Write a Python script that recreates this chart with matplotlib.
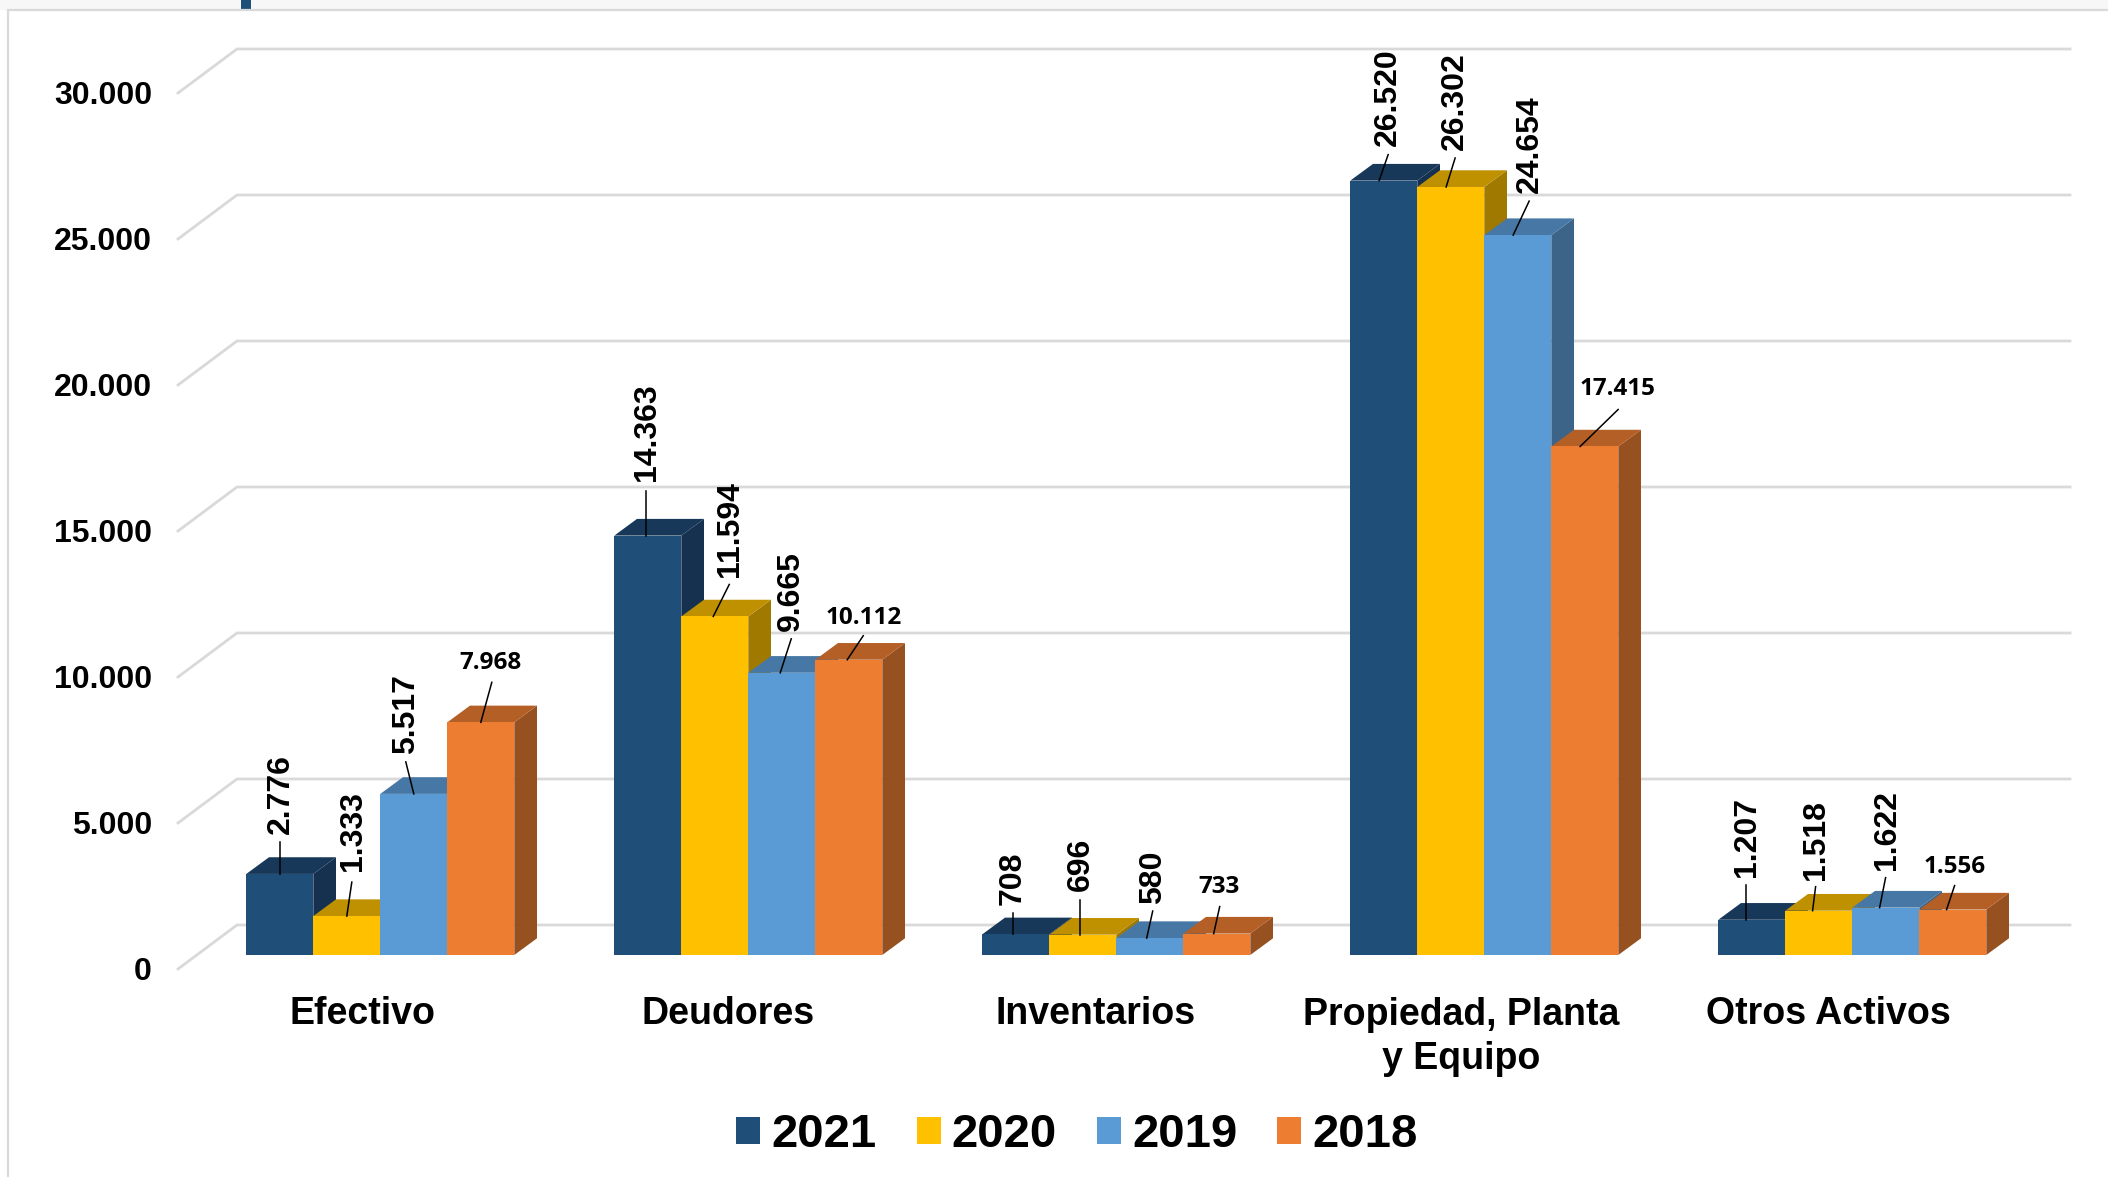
import matplotlib
matplotlib.use('Agg')
import matplotlib.pyplot as plt
from matplotlib.patches import Polygon, Rectangle

categorias = ['Efectivo', 'Deudores', 'Inventarios', 'Propiedad, Planta\ny Equipo', 'Otros Activos']
years = ['2021', '2020', '2019', '2018']
v2021 = [2776, 14363, 708, 26520, 1207]
v2020 = [1333, 11594, 696, 26302, 1518]
v2019 = [5517, 9665, 580, 24654, 1622]
v2018 = [7968, 10112, 733, 17415, 1556]
series = [v2021, v2020, v2019, v2018]
y_ticks = [0, 5000, 10000, 15000, 20000, 25000, 30000]

front = ['#1F4E79', '#FFC000', '#5B9BD5', '#ED7D31']
top = ['#18385A', '#BF9000', '#4778A5', '#B45F26']
side = ['#16314F', '#A07900', '#3B6488', '#97501F']

# label placement, pixels from the leader's foot on the bar's top front edge: leader end, label centre
leader_off = [
    [(0, -32), (5, -34), (-8, -32), (11, -40)],
    [(0, -45), (16, -32), (11, -34), (16, -24)],
    [(0, -21), (0, -35), (6, -27), (6, -27)],
    [(9, -26), (9, -29), (16, -34), (38, -37)],
    [(0, -35), (3, -24), (6, -30), (8, -24)],
]
label_off = [
    [(1, -80), (6, -85), (-8, -80), (10, -59)],
    [(1, -103), (17, -87), (11, -82), (16, -42)],
    [(0, -56), (1, -70), (6, -61), (5, -47)],
    [(9, -83), (9, -86), (17, -91), (37, -57)],
    [(1, -83), (3, -71), (7, -78), (8, -43)],
]
cat_px = [362.9, 728.4, 1095.4, 1461.6, 1828.5]

W, H = 2108, 1177
X0, Y0 = 380.3, 955          # pixel of category 0 / value 0 on the bars' front plane
SX, SY = 368, 146 / 5000     # pixels per category, pixels per unit

def dx(p):
    return p / SX

def dy(p):
    return p / SY

def px(x):
    return (x - X0) / SX

def py(y):
    return (Y0 - y) / SY

fig = plt.figure(figsize=(W / 100, H / 100), dpi=100)
ax = fig.add_axes([0, 0, 1, 1])
ax.set_xlim(px(0), px(W))
ax.set_ylim(py(H), py(0))
ax.axis('off')

plt.rcParams['font.family'] = 'Liberation Sans'

# outer frame and the strip above it
ax.add_patch(Rectangle((px(0), py(10)), dx(W), dy(10), color='#F7F7F7', lw=0))
ax.plot([px(8), px(8), px(W)], [py(H), py(10), py(10)], color='#D9D9D9', lw=1.6, solid_joinstyle='miter')
ax.add_patch(Rectangle((px(241), py(9)), dx(10), dy(9), color='#1F4E79', lw=0))

# grid: floor/wall lines with the little diagonal at the left
for t in y_ticks:
    ax.plot([px(178), px(237), px(2070)],
            [t + dy(-14), t + dy(30), t + dy(30)],
            color='#D9D9D9', lw=2, solid_joinstyle='miter', zorder=1)
    ax.text(px(152), t + dy(-17), f'{t:,}'.replace(',', '.'), ha='right', va='center',
            fontsize=23, fontweight='bold', color='black', zorder=5)

bar_w = 67 / SX
depth_x, depth_y = dx(22.7), dy(16.7)

for i in range(len(categorias)):
    for s in range(len(years)):
        v = series[s][i]
        xc = i + (s - 1.5) * bar_w
        xl, xr = xc - bar_w / 2, xc + bar_w / 2
        z = 2 + s * 0.1
        ax.add_patch(Polygon([(xr, 0), (xr + depth_x, depth_y), (xr + depth_x, v + depth_y), (xr, v)],
                             facecolor=side[s], edgecolor='none', zorder=z))
        ax.add_patch(Polygon([(xl, v), (xl + depth_x, v + depth_y), (xr + depth_x, v + depth_y), (xr, v)],
                             facecolor=top[s], edgecolor='none', zorder=z))
        ax.bar(xc, v, width=bar_w, color=front[s], zorder=z + 0.01, label=years[s] if i == 0 else None)

        # the label anchors drift left of the bar centres from group to group
        xa = xc - dx(1.55 * i)
        lx, ly = leader_off[i][s]
        ax.plot([xa, xa + dx(lx)], [v, v + dy(-ly)], color='black', lw=1.1, zorder=4)
        tx, ty = label_off[i][s]
        txt = f'{v:,}'.replace(',', '.')
        if s == 3:
            ax.text(xa + dx(tx), v + dy(-ty), txt, ha='center', va='center', fontsize=17.5,
                    fontweight='bold', family='Open Sans', zorder=5)
        else:
            ax.text(xa + dx(tx), v + dy(-ty), txt, ha='center', va='center', rotation=90,
                    fontsize=23, fontweight='bold', zorder=5)

    if '\n' in categorias[i]:
        ax.text(px(cat_px[i]), py(997), categorias[i], ha='center', va='top',
                fontsize=27, fontweight='bold', linespacing=1.3, zorder=5)
    else:
        ax.text(px(cat_px[i]), py(1014.5), categorias[i], ha='center', va='center',
                fontsize=27, fontweight='bold', zorder=5)

ax.legend(loc='center', bbox_to_anchor=(px(1077), py(1135)), bbox_transform=ax.transData,
          ncol=4, frameon=False, prop={'weight': 'bold', 'size': 34, 'family': 'Liberation Sans'},
          handlelength=0.51, handleheight=0.51, handletextpad=0.23, columnspacing=0.85, borderpad=0)

fig.savefig('out.png', dpi=100)
